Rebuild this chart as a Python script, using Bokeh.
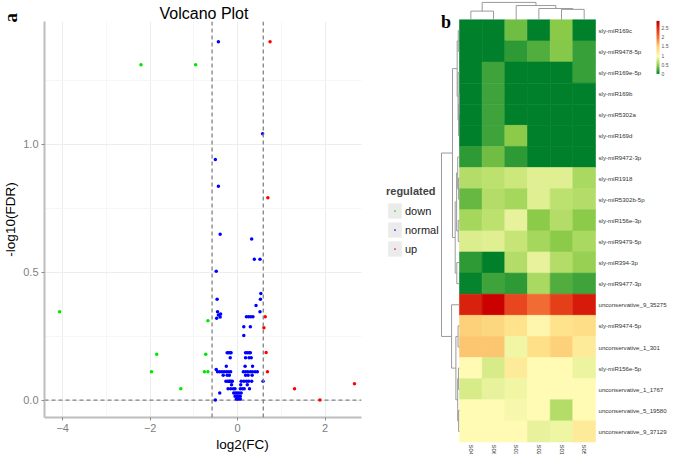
import math
from bokeh.plotting import figure
from bokeh.models import (ColumnDataSource, Range1d, Span, Label, Legend, LegendItem,
                          SingleIntervalTicker, LinearColorMapper, ColorBar, FixedTicker,
                          PrintfTickFormatter)
from bokeh.layouts import row
from bokeh.transform import transform
from bokeh.core.properties import value
from bokeh.embed import file_html
from bokeh.resources import INLINE

# ---------------- data: volcano plot ----------------
down_fc = [-2.21, -0.96, -4.07, -0.68, -1.85, -0.73, -1.97, -0.76, -0.68, -1.30]
down_fdr = [1.31, 1.31, 0.345, 0.31, 0.179, 0.179, 0.111, 0.111, 0.111, 0.044]

up_fc = [0.74, 0.69, 0.63, 0.60, 0.65, 0.68, 1.30, 1.88, 2.67]
up_fdr = [1.40, 0.79, 0.326, 0.283, 0.186, 0.111, 0.044, 0.0, 0.064]

normal_fc = [
    -0.44, 0.57, -0.51, -0.44,
    -0.40, 0.32, 0.38, 0.51, -0.49,
    0.53, -0.47, 0.52, 0.42,
    -0.46, 0.51,
    -0.44, -0.39, -0.48, -0.40,
    0.20, 0.25, 0.30, 0.35,
    0.14, 0.29, 0.14,
    -0.24, -0.21, -0.17, -0.15, 0.18, 0.22, 0.26, 0.29,
    -0.17, 0.18, 0.26, 0.31,
    -0.26, 0.17, 0.34,
    -0.49,
    -0.46, -0.41, -0.36, -0.31, -0.26, -0.21, -0.16, 0.13, 0.18, 0.23, 0.29, 0.34, 0.40, 0.45,
    -0.33, -0.24, -0.19, 0.18, 0.24, 0.33,
    -0.27, -0.23, -0.20, -0.18, -0.15, -0.12, 0.08, 0.14, 0.20, 0.25, 0.32, 0.58,
    -0.14, 0.07, 0.22,
    -0.22, -0.16, -0.10, -0.06, 0.06, 0.11, 0.15, 0.27,
    -0.41, -0.09, -0.05, -0.01, 0.03, 0.08,
    -0.06, -0.02, 0.02, 0.06,
    -0.03, 0.0, 0.03, 0.06,
    -0.51,
]
normal_fdr = [
    1.40, 1.04, 0.94, 0.835,
    0.648, 0.629, 0.55, 0.55, 0.503,
    0.416, 0.394, 0.394, 0.37,
    0.345, 0.345,
    0.332, 0.336, 0.32, 0.325,
    0.326, 0.326, 0.326, 0.326,
    0.287, 0.287, 0.252,
    0.185, 0.185, 0.185, 0.185, 0.185, 0.185, 0.185, 0.185,
    0.165, 0.165, 0.165, 0.165,
    0.132, 0.132, 0.132,
    0.12,
    0.111, 0.111, 0.111, 0.111, 0.111, 0.111, 0.111, 0.111, 0.111, 0.111, 0.111, 0.111, 0.111, 0.111,
    0.097, 0.097, 0.097, 0.097, 0.097, 0.097,
    0.074, 0.074, 0.074, 0.074, 0.074, 0.074, 0.074, 0.074, 0.074, 0.074, 0.074, 0.074,
    0.06, 0.06, 0.06,
    0.044, 0.044, 0.044, 0.044, 0.044, 0.044, 0.044, 0.044,
    0.028, 0.028, 0.028, 0.028, 0.028, 0.028,
    0.015, 0.015, 0.015, 0.015,
    0.004, 0.004, 0.004, 0.004,
    0.0,
]
fc_cut = 0.585   # log2(1.5)
fdr_cut = 0.0
x_ticks_interval = 2
y_ticks_interval = 0.5
categories = ["down", "normal", "up"]

# ---------------- data: heatmap ----------------
heat_cols = ["S04", "S06", "S03", "S02", "S01", "S05"]
heat_rows = ["sly-miR169c", "sly-miR9478-5p", "sly-miR169e-5p", "sly-miR169b", "sly-miR5302a",
             "sly-miR169d", "sly-miR9472-3p", "sly-miR1918", "sly-miR5302b-5p", "sly-miR156e-3p",
             "sly-miR9479-5p", "sly-miR394-3p", "sly-miR9477-3p", "unconservative_9_35275",
             "sly-miR9474-5p", "unconservative_1_301", "sly-miR156e-5p", "unconservative_1_1767",
             "unconservative_5_19580", "unconservative_9_37129"]
heat_values = [
    [0.00, 0.00, 0.36, 0.00, 0.44, 0.00],
    [0.00, 0.00, 0.15, 0.26, 0.43, 0.18],
    [0.00, 0.20, 0.00, 0.00, 0.00, 0.18],
    [0.00, 0.20, 0.00, 0.00, 0.00, 0.00],
    [0.00, 0.20, 0.00, 0.00, 0.00, 0.00],
    [0.00, 0.20, 0.45, 0.00, 0.00, 0.00],
    [0.15, 0.36, 0.15, 0.00, 0.00, 0.00],
    [0.62, 0.66, 0.73, 0.82, 0.82, 0.58],
    [0.33, 0.62, 0.56, 0.82, 0.66, 0.62],
    [0.56, 0.66, 0.86, 0.45, 0.62, 0.45],
    [0.80, 0.82, 0.70, 0.56, 0.45, 0.58],
    [0.15, 0.00, 0.62, 0.86, 0.62, 0.50],
    [0.02, 0.20, 0.15, 0.58, 0.26, 0.20],
    [2.55, 2.80, 2.30, 2.05, 2.35, 2.60],
    [1.48, 1.40, 1.25, 1.02, 1.25, 1.30],
    [1.55, 1.55, 0.90, 1.28, 1.48, 1.15],
    [0.97, 0.78, 1.15, 0.97, 0.97, 0.88],
    [0.78, 0.86, 0.90, 0.97, 0.97, 0.97],
    [0.97, 0.97, 0.93, 0.97, 0.62, 0.97],
    [0.97, 0.97, 0.97, 0.86, 0.89, 1.15],
]
# hierarchical clustering merges: (child_a, child_b, height); ids >= n are earlier merges
col_merges = [(0, 1, 0.50), (4, 5, 0.60), (3, 7, 0.65), (2, 8, 0.82), (6, 9, 1.00)]
row_merges = [(3, 4, 0.02), (20, 5, 0.05), (2, 21, 0.08), (0, 1, 0.07), (23, 22, 0.13),
              (7, 8, 0.05), (6, 25, 0.10), (9, 10, 0.07), (26, 27, 0.16), (11, 12, 0.15),
              (28, 29, 0.24), (24, 30, 0.39), (14, 15, 0.08), (16, 17, 0.06), (18, 19, 0.05),
              (33, 34, 0.10), (32, 35, 0.20), (13, 36, 0.44), (31, 37, 1.00)]
cbar_ticks = [0, 0.5, 1, 1.5, 2, 2.5]
cbar_low, cbar_high = 0.0, 2.9

# ---------------- style ----------------
SANS = "Liberation Sans"
SERIF = "Liberation Serif"
W_A, W_B, H = 440, 229, 454
colors = {"down": "#00E600", "normal": "#0000FF", "up": "#FF0000"}

# ================= panel a: volcano =================
BL, BT, BB = 40, 21, 37          # borders (px)
x_lo, x_hi = -4.415, 2.826       # visible data window of the volcano plot
y_lo, y_hi = -0.068, 1.479
data_w = 320                     # px width of the data window
ppu = data_w / (x_hi - x_lo)
x_end = x_lo + (W_A - BL) / ppu  # frame continues to the right to host the legend

pa = figure(width=W_A, height=H, output_backend="svg", toolbar_location=None,
            x_range=Range1d(x_lo, x_end), y_range=Range1d(y_lo, y_hi),
            min_border_left=BL, min_border_right=0, min_border_top=BT, min_border_bottom=BB,
            frame_align=False)
pa.outline_line_color = None
pa.title.text = "Volcano Plot"
pa.title.align = "left"
pa.title.offset = 115
pa.title.standoff = 0
pa.title.text_font = SANS
pa.title.text_font_size = "16px"
pa.title.text_font_style = "normal"
pa.title.text_color = "#000000"

pa.xaxis.ticker = SingleIntervalTicker(interval=x_ticks_interval, num_minor_ticks=2)
pa.yaxis.ticker = SingleIntervalTicker(interval=y_ticks_interval, num_minor_ticks=2)
pa.yaxis.formatter = PrintfTickFormatter(format="%.1f")
pa.xaxis.bounds = (x_lo, x_hi)
for ax in (pa.xaxis[0], pa.yaxis[0]):
    ax.axis_line_color = "#BDBDBD"
    ax.axis_line_width = 2
    ax.major_tick_line_color = "#8C8C8C"
    ax.major_tick_out = 3
    ax.major_tick_in = 0
    ax.minor_tick_line_color = None
    ax.major_label_text_font = SANS
    ax.major_label_text_font_size = "11px"
    ax.major_label_text_color = "#808080"
    ax.major_label_standoff = 2
    ax.axis_label_text_font = SANS
    ax.axis_label_text_font_size = "13.5px"
    ax.axis_label_text_font_style = "normal"
    ax.axis_label_text_color = "#000000"
    ax.axis_label_standoff = 2
pa.xaxis.axis_label = "log2(FC)"
pa.yaxis.axis_label = "-log10(FDR)"
pa.grid.grid_line_color = "#EDEDED"
pa.grid.minor_grid_line_color = "#F6F6F6"
pa.xgrid.bounds = (x_lo, x_hi)
if "cross_bounds" in pa.ygrid[0].properties():
    pa.ygrid.cross_bounds = (x_lo, x_hi)

# panel letter "a" (colour bar title used as a free-floating text outside the frame)
letter_a = ColorBar(color_mapper=LinearColorMapper(palette=["#FFFFFF"], low=0, high=1),
                    ticker=FixedTicker(ticks=[]), width=1, height=1, location=(-47, 395),
                    padding=0, margin=0, title="a", title_standoff=0,
                    title_text_font=SERIF, title_text_font_size="19px",
                    title_text_font_style="bold", title_text_color="#000000",
                    scale_alpha=0, major_label_text_alpha=0, major_label_text_font_size="1px",
                    major_tick_line_color=None, bar_line_color=None, border_line_color=None,
                    background_fill_alpha=0)
pa.add_layout(letter_a)

for loc in (-fc_cut, fc_cut):
    pa.add_layout(Span(location=loc, dimension="height", line_color="#808080",
                       line_dash="4 3", line_width=1.3))
pa.segment(x0=[x_lo], y0=[fdr_cut], x1=[x_hi], y1=[fdr_cut], line_color="#808080",
           line_dash="4 3", line_width=1.3)

series = {"down": (down_fc, down_fdr), "normal": (normal_fc, normal_fdr), "up": (up_fc, up_fdr)}
items = []
for cat in categories:
    xs, ys = series[cat]
    # zero-size rects: invisible in the plot, give the grey legend key background
    key = pa.rect(x=xs, y=ys, width=0, height=0, fill_color="#EBEBEB", line_color=None)
    r = pa.scatter(xs, ys, marker="dot", size=14, line_color=colors[cat], fill_color=colors[cat])
    items.append(LegendItem(label=cat, renderers=[key, r]))

legend = Legend(items=items, location=(342, 159), title="regulated",
                glyph_width=17, glyph_height=19, label_height=19, spacing=0, padding=0, margin=0,
                label_standoff=2, title_standoff=4,
                label_text_font=SANS, label_text_font_size="11px", label_text_color="#1A1A1A",
                title_text_font=SANS, title_text_font_size="11px", title_text_font_style="bold",
                border_line_color=None, background_fill_alpha=0)
pa.add_layout(legend)

# ================= panel b: heatmap =================
n_rows, n_cols = len(heat_rows), len(heat_cols)
cw, rh = 22.67, 21.11          # px per column / row
hm_left, hm_top = 19.0, 19.3   # heatmap position inside panel b (px)
x0 = -hm_left / cw
x1 = (W_B - hm_left) / cw
y1 = n_rows + hm_top / rh
y0 = n_rows - (H - hm_top) / rh

pb = figure(width=W_B, height=H, output_backend="svg", toolbar_location=None,
            x_range=Range1d(x0, x1), y_range=Range1d(y0, y1),
            x_axis_location=None, y_axis_location=None, min_border=0, frame_align=False)
pb.grid.visible = False
pb.outline_line_color = None

pb.add_layout(Label(x=0.5, y=H - 21, x_units="screen", y_units="screen", text="b",
                    text_align="left", text_baseline="alphabetic", text_font=SERIF,
                    text_font_size="18px", text_font_style="bold", text_color="#000000"))

# palette green -> pale yellow -> red
stops = [(0.0, "#00802B"), (0.2, "#3DA33A"), (0.45, "#8CCB4A"), (0.7, "#C5E575"),
         (0.97, "#FFFBB5"), (1.25, "#FEE38C"), (1.5, "#FDD078"), (2.0, "#F3733A"),
         (2.35, "#E5401A"), (2.8, "#CC0000"), (2.9, "#C40000")]


def hex2rgb(h):
    return tuple(int(h[i:i + 2], 16) for i in (1, 3, 5))


palette = []
N = 290
for k in range(N):
    v = cbar_low + (cbar_high - cbar_low) * k / (N - 1)
    for (va, ca), (vb, cb) in zip(stops[:-1], stops[1:]):
        if va <= v <= vb:
            t = (v - va) / (vb - va) if vb > va else 0
            a, b = hex2rgb(ca), hex2rgb(cb)
            palette.append("#%02X%02X%02X" % tuple(round(a[i] + (b[i] - a[i]) * t) for i in range(3)))
            break
mapper = LinearColorMapper(palette=palette, low=cbar_low, high=cbar_high)

cx, cy, cv = [], [], []
for i, rname in enumerate(heat_rows):
    for j, cname in enumerate(heat_cols):
        cx.append(j + 0.5)
        cy.append(n_rows - i - 0.5)
        cv.append(heat_values[i][j])
src = ColumnDataSource(dict(x=cx, y=cy, val=cv))
pb.rect("x", "y", width=1, height=1, source=src,
        fill_color=transform("val", mapper), line_color=transform("val", mapper), line_width=0.6)


def dendrogram(n_leaves, merges):
    pos = {i: i + 0.5 for i in range(n_leaves)}
    hgt = {i: 0.0 for i in range(n_leaves)}
    lines = []
    for k, (a, b, h) in enumerate(merges):
        lines.append(([pos[a], pos[a], pos[b], pos[b]], [hgt[a], h, h, hgt[b]]))
        pos[n_leaves + k] = (pos[a] + pos[b]) / 2
        hgt[n_leaves + k] = h
    return lines


DEND_H = 17.4 / rh   # column dendrogram height in row units
DEND_W = 18.0 / cw   # row dendrogram width in column units
col_lines = dendrogram(n_cols, col_merges)
pb.multi_line([l[0] for l in col_lines], [[n_rows + h * DEND_H for h in l[1]] for l in col_lines],
              line_color="#9A9A9A", line_width=1)
row_lines = dendrogram(n_rows, row_merges)
pb.multi_line([[-h * DEND_W for h in l[1]] for l in row_lines], [[n_rows - p for p in l[0]] for l in row_lines],
              line_color="#9A9A9A", line_width=1)

pb.text(x=[n_cols + 3 / cw] * n_rows, y=[n_rows - i - 0.5 for i in range(n_rows)], text=heat_rows,
        text_align="left", text_baseline="middle", text_font=value(SANS),
        text_font_size="6.1px", text_color="#333333")
pb.text(x=[j + 0.5 for j in range(n_cols)], y=[-2.5 / rh] * n_cols, text=heat_cols,
        angle=-math.pi / 2, text_align="left", text_baseline="middle", text_font=value(SANS),
        text_font_size="6px", text_color="#333333")

cbar = ColorBar(color_mapper=mapper, ticker=FixedTicker(ticks=cbar_ticks), width=3, height=53,
                location=(W_B - 13, 380.6), padding=0, margin=0, label_standoff=2,
                major_label_text_font=SANS, major_label_text_font_size="5px",
                major_label_text_color="#555555", major_tick_line_color=None,
                minor_tick_line_color=None, bar_line_color=None, border_line_color=None,
                background_fill_alpha=0)
pb.add_layout(cbar)

layout = row(pa, pb, spacing=0)
open("out.html", "w").write(file_html(layout, INLINE))
